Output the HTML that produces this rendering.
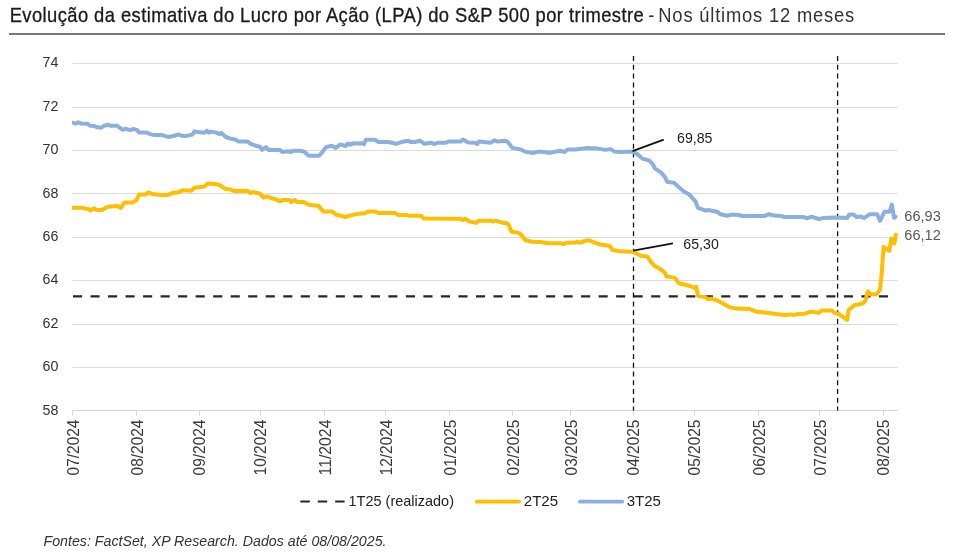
<!DOCTYPE html>
<html><head><meta charset="utf-8"><style>
html,body{margin:0;padding:0;background:#fff;}
body{width:956px;height:560px;overflow:hidden;}
svg{display:block;font-family:"Liberation Sans", sans-serif;will-change:transform;}
</style></head><body>
<svg width="956" height="560" viewBox="0 0 956 560">
<rect x="0" y="0" width="956" height="560" fill="#fff"/>

<text transform="translate(9.7,22) scale(0.92,1)" x="0" y="0" font-size="20" fill="#1a1a1a" stroke="#1a1a1a" stroke-width="0.3" textLength="689.13" lengthAdjust="spacing">Evolução da estimativa do Lucro por Ação (LPA) do S&amp;P 500 por trimestre</text>
<text transform="translate(648.3,22) scale(0.92,1)" x="0" y="0" font-size="20" fill="#333">-</text>
<text transform="translate(658.3,22) scale(0.92,1)" x="0" y="0" font-size="20" fill="#333" textLength="213.04" lengthAdjust="spacing">Nos últimos 12 meses</text>
<rect x="9" y="33" width="936" height="2" fill="#767676"/>
<line x1="72.5" y1="367.5" x2="897.6" y2="367.5" stroke="#d9dadd" stroke-width="1"/>
<line x1="72.5" y1="324.5" x2="897.6" y2="324.5" stroke="#d9dadd" stroke-width="1"/>
<line x1="72.5" y1="280.5" x2="897.6" y2="280.5" stroke="#d9dadd" stroke-width="1"/>
<line x1="72.5" y1="237.5" x2="897.6" y2="237.5" stroke="#d9dadd" stroke-width="1"/>
<line x1="72.5" y1="193.5" x2="897.6" y2="193.5" stroke="#d9dadd" stroke-width="1"/>
<line x1="72.5" y1="150.5" x2="897.6" y2="150.5" stroke="#d9dadd" stroke-width="1"/>
<line x1="72.5" y1="107.5" x2="897.6" y2="107.5" stroke="#d9dadd" stroke-width="1"/>
<line x1="72.5" y1="63.5" x2="897.6" y2="63.5" stroke="#d9dadd" stroke-width="1"/>
<line x1="72.5" y1="410.5" x2="897.6" y2="410.5" stroke="#d3d5d8" stroke-width="1"/>
<line x1="72.5" y1="410.5" x2="72.5" y2="415.5" stroke="#d3d5d8" stroke-width="1"/>
<line x1="136.5" y1="410.5" x2="136.5" y2="415.5" stroke="#d3d5d8" stroke-width="1"/>
<line x1="199.5" y1="410.5" x2="199.5" y2="415.5" stroke="#d3d5d8" stroke-width="1"/>
<line x1="260.5" y1="410.5" x2="260.5" y2="415.5" stroke="#d3d5d8" stroke-width="1"/>
<line x1="324.5" y1="410.5" x2="324.5" y2="415.5" stroke="#d3d5d8" stroke-width="1"/>
<line x1="385.5" y1="410.5" x2="385.5" y2="415.5" stroke="#d3d5d8" stroke-width="1"/>
<line x1="449.5" y1="410.5" x2="449.5" y2="415.5" stroke="#d3d5d8" stroke-width="1"/>
<line x1="512.5" y1="410.5" x2="512.5" y2="415.5" stroke="#d3d5d8" stroke-width="1"/>
<line x1="570.5" y1="410.5" x2="570.5" y2="415.5" stroke="#d3d5d8" stroke-width="1"/>
<line x1="633.5" y1="410.5" x2="633.5" y2="415.5" stroke="#d3d5d8" stroke-width="1"/>
<line x1="694.5" y1="410.5" x2="694.5" y2="415.5" stroke="#d3d5d8" stroke-width="1"/>
<line x1="758.5" y1="410.5" x2="758.5" y2="415.5" stroke="#d3d5d8" stroke-width="1"/>
<line x1="819.5" y1="410.5" x2="819.5" y2="415.5" stroke="#d3d5d8" stroke-width="1"/>
<line x1="883.5" y1="410.5" x2="883.5" y2="415.5" stroke="#d3d5d8" stroke-width="1"/>
<text transform="translate(58.3,414.52) scale(0.93,1)" x="0" y="0" font-size="15.3" fill="#333" text-anchor="end">58</text>
<text transform="translate(58.3,371.13) scale(0.93,1)" x="0" y="0" font-size="15.3" fill="#333" text-anchor="end">60</text>
<text transform="translate(58.3,327.74) scale(0.93,1)" x="0" y="0" font-size="15.3" fill="#333" text-anchor="end">62</text>
<text transform="translate(58.3,284.35) scale(0.93,1)" x="0" y="0" font-size="15.3" fill="#333" text-anchor="end">64</text>
<text transform="translate(58.3,240.96) scale(0.93,1)" x="0" y="0" font-size="15.3" fill="#333" text-anchor="end">66</text>
<text transform="translate(58.3,197.57) scale(0.93,1)" x="0" y="0" font-size="15.3" fill="#333" text-anchor="end">68</text>
<text transform="translate(58.3,154.18) scale(0.93,1)" x="0" y="0" font-size="15.3" fill="#333" text-anchor="end">70</text>
<text transform="translate(58.3,110.79) scale(0.93,1)" x="0" y="0" font-size="15.3" fill="#333" text-anchor="end">72</text>
<text transform="translate(58.3,67.40) scale(0.93,1)" x="0" y="0" font-size="15.3" fill="#333" text-anchor="end">74</text>
<text transform="translate(78.5,419.6) rotate(-90)" x="0" y="0" font-size="16" fill="#3a3a3a" text-anchor="end" textLength="55.8" lengthAdjust="spacingAndGlyphs">07/2024</text>
<text transform="translate(142.5,419.6) rotate(-90)" x="0" y="0" font-size="16" fill="#3a3a3a" text-anchor="end" textLength="55.8" lengthAdjust="spacingAndGlyphs">08/2024</text>
<text transform="translate(205.3,419.6) rotate(-90)" x="0" y="0" font-size="16" fill="#3a3a3a" text-anchor="end" textLength="55.8" lengthAdjust="spacingAndGlyphs">09/2024</text>
<text transform="translate(266.4,419.6) rotate(-90)" x="0" y="0" font-size="16" fill="#3a3a3a" text-anchor="end" textLength="55.8" lengthAdjust="spacingAndGlyphs">10/2024</text>
<text transform="translate(330.7,419.6) rotate(-90)" x="0" y="0" font-size="16" fill="#3a3a3a" text-anchor="end" textLength="55.8" lengthAdjust="spacingAndGlyphs">11/2024</text>
<text transform="translate(391.5,419.6) rotate(-90)" x="0" y="0" font-size="16" fill="#3a3a3a" text-anchor="end" textLength="55.8" lengthAdjust="spacingAndGlyphs">12/2024</text>
<text transform="translate(455.5,419.6) rotate(-90)" x="0" y="0" font-size="16" fill="#3a3a3a" text-anchor="end" textLength="55.8" lengthAdjust="spacingAndGlyphs">01/2025</text>
<text transform="translate(518.5,419.6) rotate(-90)" x="0" y="0" font-size="16" fill="#3a3a3a" text-anchor="end" textLength="55.8" lengthAdjust="spacingAndGlyphs">02/2025</text>
<text transform="translate(576.7,419.6) rotate(-90)" x="0" y="0" font-size="16" fill="#3a3a3a" text-anchor="end" textLength="55.8" lengthAdjust="spacingAndGlyphs">03/2025</text>
<text transform="translate(639.3,419.6) rotate(-90)" x="0" y="0" font-size="16" fill="#3a3a3a" text-anchor="end" textLength="55.8" lengthAdjust="spacingAndGlyphs">04/2025</text>
<text transform="translate(700.4,419.6) rotate(-90)" x="0" y="0" font-size="16" fill="#3a3a3a" text-anchor="end" textLength="55.8" lengthAdjust="spacingAndGlyphs">05/2025</text>
<text transform="translate(764.5,419.6) rotate(-90)" x="0" y="0" font-size="16" fill="#3a3a3a" text-anchor="end" textLength="55.8" lengthAdjust="spacingAndGlyphs">06/2025</text>
<text transform="translate(825.6,419.6) rotate(-90)" x="0" y="0" font-size="16" fill="#3a3a3a" text-anchor="end" textLength="55.8" lengthAdjust="spacingAndGlyphs">07/2025</text>
<text transform="translate(889.3,419.6) rotate(-90)" x="0" y="0" font-size="16" fill="#3a3a3a" text-anchor="end" textLength="55.8" lengthAdjust="spacingAndGlyphs">08/2025</text>
<line x1="633.5" y1="56.1" x2="633.5" y2="410.5" stroke="#111" stroke-width="1.3" stroke-dasharray="5 3.76"/>
<line x1="837.6" y1="56.1" x2="837.6" y2="410.5" stroke="#111" stroke-width="1.3" stroke-dasharray="5 3.76"/>
<line x1="73.0" y1="296.3" x2="888.2" y2="296.3" stroke="#262626" stroke-width="2.2" stroke-dasharray="9.1 8.42"/>
<defs><clipPath id="pc"><rect x="72" y="40" width="900" height="380"/></clipPath></defs>
<path clip-path="url(#pc)" d="M72.3,122.6 L75.6,123.6 L78.2,122.3 L81.3,123.6 L87.6,123.8 L90.1,125.7 L94.5,126.1 L97.6,127.3 L101.4,127.8 L103.9,125.7 L107.7,124.7 L110.2,125.7 L117.1,125.7 L119.6,127.6 L122.7,129.8 L125.2,128.8 L130.2,130.1 L133.4,128.8 L137.2,130.1 L139.0,132.6 L146.6,132.6 L150.3,134.1 L153.5,134.9 L161.6,134.9 L165.4,136.1 L168.5,137.0 L174.2,135.7 L178.6,134.5 L181.7,135.7 L185.0,136.1 L190.0,135.1 L192.5,134.5 L194.4,131.6 L197.6,132.0 L204.5,132.8 L207.0,130.7 L208.8,132.8 L211.4,131.6 L216.4,132.6 L219.5,134.1 L221.4,132.8 L225.2,136.6 L230.2,138.6 L235.2,139.5 L238.3,141.4 L247.8,141.6 L250.3,143.6 L255.3,145.5 L260.3,147.0 L262.2,149.9 L266.0,147.0 L268.5,149.9 L279.8,149.9 L282.3,152.0 L287.9,151.2 L291.1,152.0 L293.0,150.8 L300.0,150.8 L303.8,151.4 L308.8,155.8 L318.8,155.8 L322.6,152.0 L325.7,147.4 L331.4,145.7 L335.8,147.9 L340.2,144.5 L345.8,146.0 L347.7,143.6 L350.2,144.7 L352.7,143.6 L361.5,143.2 L364.0,144.1 L365.9,139.8 L374.7,139.8 L378.4,142.0 L388.5,142.0 L396.0,143.8 L402.9,141.7 L408.6,140.7 L410.5,142.0 L415.0,142.0 L420.0,140.7 L424.4,143.8 L431.3,142.8 L433.8,144.1 L437.6,142.8 L445.8,142.8 L448.3,141.6 L460.8,141.6 L462.7,139.5 L468.3,142.6 L475.2,142.8 L477.1,144.1 L479.0,141.6 L490.3,142.8 L494.7,140.3 L497.8,141.6 L505.4,140.7 L507.9,142.0 L512.3,147.9 L519.2,149.1 L522.3,150.1 L524.8,151.6 L531.7,152.9 L535.0,152.4 L540.0,151.6 L550.1,152.9 L560.1,150.8 L564.5,152.0 L567.7,149.5 L575.2,149.5 L587.7,147.9 L597.8,148.6 L605.3,149.9 L610.3,149.1 L614.1,151.4 L620.4,152.0 L632.9,151.6 L637.9,154.5 L643.0,158.9 L645.0,159.3 L649.3,160.7 L652.9,164.3 L655.0,168.6 L660.7,172.1 L665.0,177.1 L667.1,181.7 L674.3,182.9 L677.1,185.7 L684.3,191.7 L689.3,194.6 L695.7,201.7 L697.9,207.9 L705.7,210.7 L707.9,210.0 L717.1,211.7 L720.7,214.3 L727.1,215.7 L732.1,214.6 L738.6,215.0 L742.1,216.0 L764.4,216.1 L768.8,214.2 L774.6,215.6 L782.0,216.1 L784.2,217.1 L803.9,217.1 L806.9,218.3 L811.3,216.7 L818.6,219.0 L823.0,218.1 L836.1,217.5 L844.2,217.8 L847.1,218.1 L849.3,214.6 L853.7,214.6 L856.6,217.1 L861.0,216.4 L864.0,218.1 L869.8,214.2 L877.1,214.2 L880.1,220.8 L884.5,211.7 L889.6,211.7 L891.8,204.6 L894.0,217.8 L895.6,216.8" fill="none" stroke="#8bb0df" stroke-width="4" stroke-linejoin="round" stroke-linecap="round"/>
<path clip-path="url(#pc)" d="M72.3,207.7 L81.3,207.7 L87.6,208.9 L90.7,210.4 L93.8,208.3 L96.4,209.9 L102.0,209.9 L106.4,207.4 L110.2,206.4 L117.7,206.1 L120.8,207.9 L124.6,202.6 L132.8,202.4 L136.5,200.1 L139.0,194.5 L145.3,194.5 L148.4,192.3 L151.6,193.8 L160.4,195.1 L167.9,194.9 L173.6,192.6 L177.9,192.6 L182.3,190.3 L191.3,190.7 L194.4,187.8 L204.5,186.6 L207.6,183.6 L212.0,183.8 L218.9,184.8 L222.0,186.6 L225.2,188.8 L231.4,189.8 L234.6,191.1 L247.1,190.7 L250.3,193.2 L252.8,192.0 L260.3,193.8 L263.4,197.6 L266.6,196.4 L272.9,198.6 L276.6,199.5 L279.8,201.4 L282.9,199.9 L289.2,200.1 L291.1,202.0 L294.8,199.9 L297.3,202.0 L303.8,201.9 L308.8,204.8 L318.8,206.1 L323.2,211.4 L332.0,211.6 L335.8,214.5 L345.2,217.0 L352.7,214.9 L360.2,213.6 L364.0,213.6 L368.4,211.6 L375.3,211.6 L378.4,212.9 L394.8,212.9 L397.9,214.9 L406.7,214.9 L409.8,215.8 L421.3,215.7 L423.8,218.6 L460.2,218.8 L462.7,219.9 L465.2,218.6 L469.0,221.4 L475.9,222.9 L479.0,220.7 L490.3,220.7 L492.8,221.6 L495.3,220.7 L502.9,222.9 L506.6,222.9 L508.5,224.5 L511.6,231.7 L518.6,232.9 L521.1,234.5 L525.5,240.2 L532.4,241.7 L540.0,242.0 L548.8,243.2 L561.4,243.2 L563.3,244.1 L566.4,242.8 L575.2,242.6 L577.1,241.6 L580.2,242.8 L584.0,241.1 L589.0,240.3 L595.3,242.8 L600.3,244.5 L607.8,245.4 L610.3,246.6 L612.2,249.9 L617.9,251.0 L625.4,251.6 L633.6,252.0 L637.3,253.9 L640.5,255.8 L643.5,256.1 L647.1,256.4 L650.7,261.4 L654.3,265.7 L660.7,269.3 L665.0,272.9 L666.4,276.4 L675.0,277.9 L678.6,283.1 L682.1,284.0 L690.0,286.0 L695.7,288.3 L696.4,286.9 L697.9,295.7 L705.0,296.9 L707.9,299.3 L710.7,298.6 L717.9,300.7 L725.7,305.0 L729.3,307.1 L736.4,308.6 L749.3,308.9 L756.4,311.7 L765.9,312.5 L776.1,314.0 L784.2,315.1 L790.8,314.4 L793.7,315.1 L798.1,314.0 L805.4,313.7 L810.5,311.5 L818.6,312.9 L821.5,310.5 L831.8,310.5 L834.7,312.9 L839.1,314.0 L847.1,319.8 L848.6,310.0 L854.4,305.2 L863.2,303.4 L865.4,300.5 L867.9,291.4 L870.7,294.3 L876.4,294.3 L880.0,290.0 L881.4,277.1 L883.6,247.1 L889.3,250.7 L891.4,238.6 L894.3,243.6 L895.9,234.8" fill="none" stroke="#ffbe00" stroke-width="4" stroke-linejoin="round" stroke-linecap="round"/>
<line x1="632.5" y1="151.2" x2="663.7" y2="139.7" stroke="#111" stroke-width="1.8"/>
<text x="677" y="143.1" font-size="15.5" fill="#222" textLength="35.5" lengthAdjust="spacingAndGlyphs">69,85</text>
<line x1="633.2" y1="250.7" x2="672.9" y2="243.4" stroke="#111" stroke-width="1.8"/>
<text x="683.3" y="248.8" font-size="15" fill="#222" textLength="35.5" lengthAdjust="spacingAndGlyphs">65,30</text>
<text x="904.3" y="221.3" font-size="15.5" fill="#595959" textLength="36.5" lengthAdjust="spacingAndGlyphs">66,93</text>
<text x="904.3" y="239.8" font-size="15.5" fill="#595959" textLength="36.5" lengthAdjust="spacingAndGlyphs">66,12</text>
<line x1="300.4" y1="501.5" x2="345" y2="501.5" stroke="#262626" stroke-width="2.2" stroke-dasharray="9.4 8"/>
<text x="348.5" y="505.7" font-size="15" fill="#222" textLength="105.5" lengthAdjust="spacingAndGlyphs">1T25 (realizado)</text>
<line x1="476.8" y1="501.7" x2="519" y2="501.7" stroke="#ffbe00" stroke-width="3.8" stroke-linecap="round"/>
<text x="523.8" y="505.7" font-size="15" fill="#222" textLength="34.3" lengthAdjust="spacingAndGlyphs">2T25</text>
<line x1="580" y1="501.7" x2="622.2" y2="501.7" stroke="#8bb0df" stroke-width="3.8" stroke-linecap="round"/>
<text x="626.7" y="505.7" font-size="15" fill="#222" textLength="34.3" lengthAdjust="spacingAndGlyphs">3T25</text>
<text x="43.5" y="546.2" font-size="14.5" font-style="italic" fill="#333" textLength="343" lengthAdjust="spacingAndGlyphs">Fontes: FactSet, XP Research. Dados até 08/08/2025.</text>
</svg></body></html>
